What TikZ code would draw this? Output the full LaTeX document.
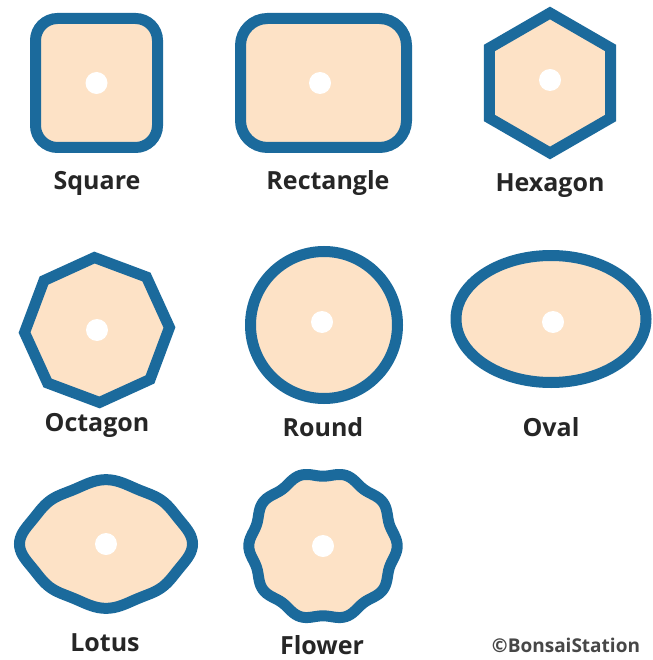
\documentclass[tikz,border=0pt]{standalone}
\usepackage{fontspec}
\setmainfont{Open Sans}
\usepackage{xcolor}
\usetikzlibrary{positioning,shapes.geometric}
\definecolor{potBlue}{HTML}{1B6A9C}
\definecolor{potSoil}{HTML}{FDE2C6}
\definecolor{potText}{HTML}{262626}
\tikzset{
    % pot outline and soil
    pot/.style={draw=potBlue,line width=11pt,fill=potSoil,inner sep=0pt,line join=miter},
    hole/.style={circle,fill=white,minimum size=22pt,inner sep=0pt},
    potlabel/.style={font=\fontsize{25}{28}\selectfont\bfseries,text=potText,inner sep=0pt},
    credit/.style={font=\fontsize{19}{22}\selectfont\bfseries,text=potText!85,inner sep=0pt}
}

\begin{document}
\begin{tikzpicture}[x=1pt,y=-1pt]
  \useasboundingbox[fill=white] (0,0) rectangle (652,660);

  % Row 1
  \node[pot,rounded corners=22pt,minimum width=122pt,minimum height=129pt] (square) at (96.5,83) {};
  \node[pot,rounded corners=27pt,minimum width=166pt,minimum height=129pt] (rect) at (323.5,83) {};
  \node[pot,regular polygon,regular polygon sides=6,minimum size=140pt,rotate=30] (hexa) at (550,83) {};

  % Row 2
  \node[pot,regular polygon,regular polygon sides=8,minimum size=145pt,rotate=24.5] (octa) at (97,330) {};
  \node[pot,circle,minimum size=147pt] (round) at (324,325) {};
  \node[pot,ellipse,minimum width=190pt,minimum height=127pt] (oval) at (551,319) {};

  % Row 3
  \coordinate (lotus) at (106,544);
  \coordinate (flower) at (323,546);
  \draw[pot,shift={(lotus)}] plot[domain=0:357.5,samples=144,smooth cycle]
    ({82*cos(\x)*(1+0.04*cos(4*\x)+0.015*cos(8*\x))},{61*sin(\x)*(1+0.03*cos(4*\x)+0.025*cos(8*\x))});
  \draw[pot,shift={(flower)}] plot[domain=0:358,samples=180,smooth cycle]
    ({(72+2.2*cos(10*\x))*cos(\x)},{(72+2.2*cos(10*\x))*sin(\x)});

  % Drainage holes
  \node[hole] at (square.center) {};
  \node[hole] at (320,83) {};
  \node[hole] at (550,80) {};
  \node[hole] at (octa.center) {};
  \node[hole] at (322,322) {};
  \node[hole] at (553,322) {};
  \node[hole] at (lotus) {};
  \node[hole] at (flower) {};

  % Labels
  \node[potlabel] (lsquare) at (97,183) {Square};
  \node[potlabel] (lrect) at (328,183) {Rectangle};
  \node[potlabel] (lhexa) at (550,186) {Hexagon};
  \node[potlabel] (locta) at (97,425) {Octagon};
  \node[potlabel] (lround) at (323,427) {Round};
  \node[potlabel] (loval) at (551,427) {Oval};
  \node[potlabel] (llotus) at (105,643) {Lotus};
  \node[potlabel] (lflower) at (322,645) {Flower};
  \node[credit] (copy) at (566,645) {©BonsaiStation};
\end{tikzpicture}
\end{document}
